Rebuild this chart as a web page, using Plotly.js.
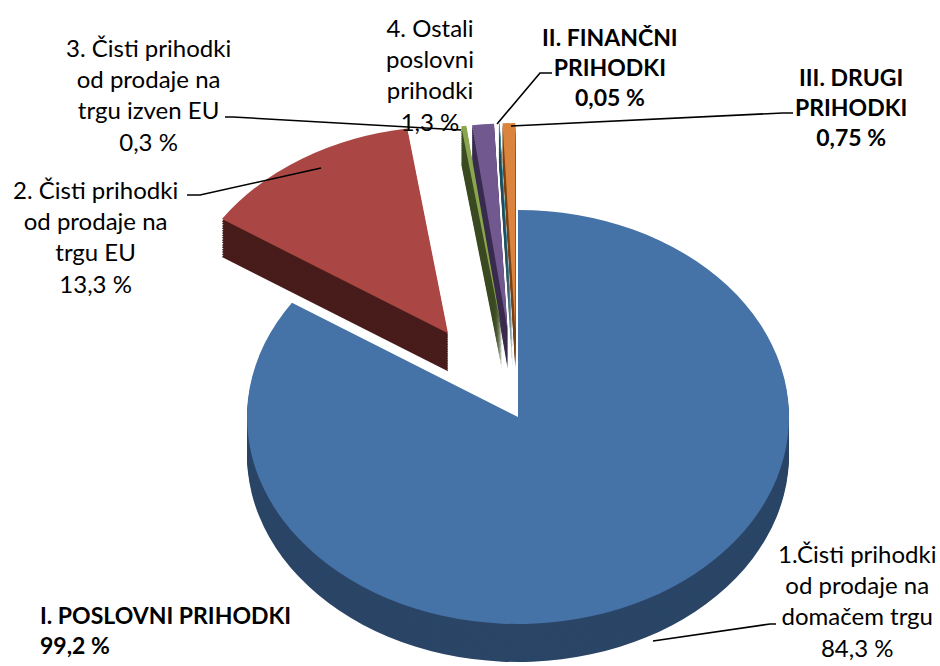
<!DOCTYPE html>
<html><head><meta charset="utf-8">
<script src="https://cdn.plot.ly/plotly-3.0.1.min.js"></script>
<style>html,body{margin:0;padding:0;background:#fff}#chart{width:940px;height:666px}</style>
</head><body><div id="chart"></div><script>
// ---- data ----
const categories = [
  '1.Čisti prihodki od prodaje na domačem trgu',
  '2. Čisti prihodki od prodaje na trgu EU',
  '3. Čisti prihodki od prodaje na trgu izven EU',
  '4. Ostali poslovni prihodki',
  'II. FINANČNI PRIHODKI',
  'III. DRUGI PRIHODKI'
];
const values = [84.3, 13.3, 0.3, 1.3, 0.05, 0.75];
const labelLines = [
  '1.Čisti prihodki<br>od prodaje na<br>domačem trgu',
  '2. Čisti prihodki<br>od prodaje na<br>trgu EU',
  '3. Čisti prihodki<br>od prodaje na<br>trgu izven EU',
  '4. Ostali<br>poslovni<br>prihodki',
  'II. FINANČNI<br>PRIHODKI',
  'III. DRUGI<br>PRIHODKI'
];
const boldLabel = [false, false, false, false, true, true];
const groupLabel = 'I. POSLOVNI PRIHODKI';
const groupMembers = [0, 1, 2, 3];

// ---- style ----
const topColors  = ['#4572a7', '#aa4643', '#89a54e', '#71588f', '#4198af', '#db843d'];
const sideColors = ['#2a4566', '#471c1a', '#3b4a20', '#3a2c4e', '#1f4e5a', '#7a4318'];
const pulls = [0, 0.48, 0.42, 0.42, 0.42, 0.42];
const FONT = 'Lato, "Open Sans", sans-serif';
const FS = 24, BFS = 23;
const W = 940, H = 666;
// projection of the flat pie onto the tilted ellipse
const CX = 518, CY = 417, RX = 271, RY = 207, DEPTH = 38, NSIDE = 16;
// label anchor positions (px)
const labelPos = [[857, 600], [95, 236], [148, 94], [430, 75], [610, 67], [851, 107]];
const groupPos = [38, 630];
const leaders = [
  [[776, 624], [770, 624], [653, 641]],
  [[187, 195], [200, 195], [321, 168]],
  [[225, 117], [233, 117], [461, 130]],
  [[552, 73], [540, 73], [497, 124]],
  [[793, 113], [783, 113], [511, 126]]
];

const fmt = v => String(v).replace('.', ',') + ' %';
const px = x => x / W, py = y => 1 - y / H;

const traces = [], offsets = [];
function pieTrace(colors) {
  return {
    type: 'pie', labels: categories, values: values, sort: false,
    direction: 'clockwise', rotation: 0, pull: pulls,
    marker: {colors: colors, line: {width: 0}},
    textinfo: 'none', hoverinfo: 'label+percent', showlegend: false
  };
}
for (let j = NSIDE; j >= 1; j--) { traces.push(pieTrace(sideColors)); offsets.push(DEPTH * j / NSIDE); }
traces.push(pieTrace(topColors)); offsets.push(0);

const annotations = categories.map((c, i) => {
  let t = labelLines[i] + '<br>' + fmt(values[i]);
  if (boldLabel[i]) t = '<b>' + t + '</b>';
  return {xref: 'paper', yref: 'paper', x: px(labelPos[i][0]), y: py(labelPos[i][1]),
    xanchor: 'center', yanchor: 'middle', align: 'center', showarrow: false, text: t,
    font: {family: FONT, size: boldLabel[i] ? BFS : FS, color: '#000'}};
});
const groupSum = Math.round(groupMembers.reduce((s, i) => s + values[i], 0) * 100) / 100;
annotations.push({xref: 'paper', yref: 'paper', x: px(groupPos[0]), y: py(groupPos[1]),
  xanchor: 'left', yanchor: 'middle', align: 'left', showarrow: false,
  text: '<b>' + groupLabel + '<br>' + fmt(groupSum) + '</b>',
  font: {family: FONT, size: BFS, color: '#000'}});

const shapes = leaders.map(pts => ({
  type: 'path', xref: 'paper', yref: 'paper',
  path: pts.map((p, k) => (k ? 'L' : 'M') + px(p[0]) + ',' + py(p[1])).join(' '),
  line: {color: '#000', width: 1.6}
}));

const layout = {
  width: W, height: H, margin: {l: 0, r: 0, t: 0, b: 0},
  paper_bgcolor: '#fff', showlegend: false,
  annotations: annotations, shapes: shapes
};

const gd = document.getElementById('chart');
Plotly.newPlot(gd, traces, layout, {displayModeBar: false, staticPlot: true}).then(function () {
  const groups = gd.querySelectorAll('.pielayer .trace');
  groups.forEach(function (g, i) {
    const c = gd.calcdata[i][0];
    const sx = RX / c.r, sy = RY / c.r;
    g.setAttribute('transform', 'translate(' + CX + ',' + (CY + offsets[i]) + ') scale(' + sx + ',' + sy + ') translate(' + (-c.cx) + ',' + (-c.cy) + ')');
  });
});
</script></body></html>
